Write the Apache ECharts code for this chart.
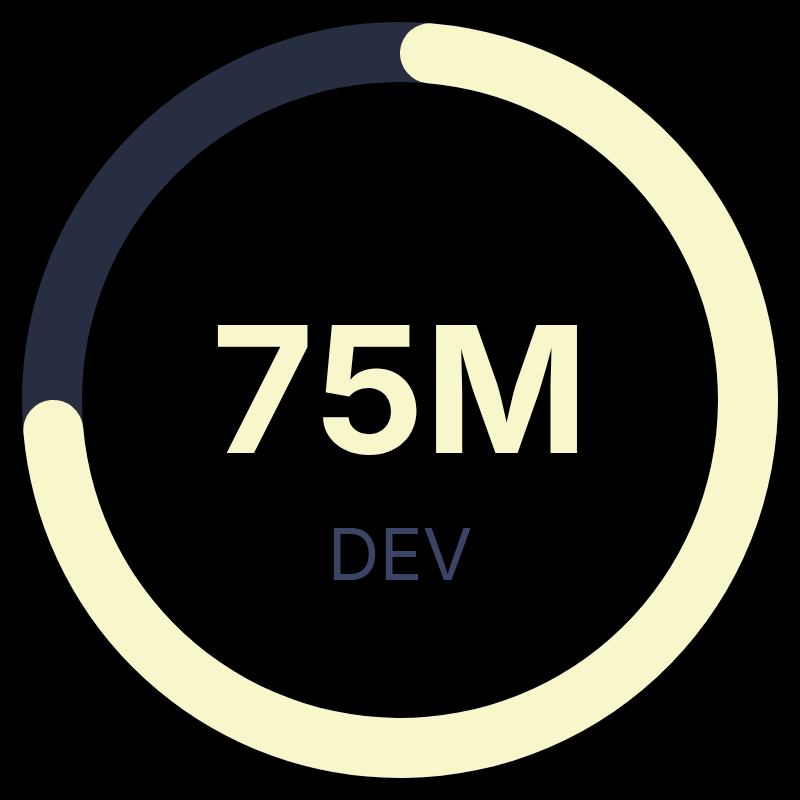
<!DOCTYPE html>
<html>
<head>
<meta charset="utf-8">
<script src="https://cdn.jsdelivr.net/npm/echarts@6/dist/echarts.min.js"></script>
<style>html,body{margin:0;padding:0;background:#000;}#c{width:800px;height:800px;}</style>
</head>
<body>
<div id="c"></div>
<script>
const labels = ['DEV'];
const values = [75];
const maxValue = 100;
const unit = 'M';

// round caps drawn inside the arc: shift angles by cap half-width
const ringWidth = 60;
const ringRadius = 378;
const capDeg = (ringWidth / 2) / (ringRadius - ringWidth / 2) * 180 / Math.PI;
const fullStart = 90;
const progStart = fullStart - capDeg;
const progSpan = (360 * values[0] / maxValue - 2 * capDeg) / (values[0] / maxValue);

const chart = echarts.init(document.getElementById('c'));
chart.setOption({
  backgroundColor: '#000000',
  series: [{
    type: 'gauge',
    center: ['50%', '50%'],
    radius: ringRadius,
    startAngle: 90,
    endAngle: -270,
    min: 0,
    max: maxValue,
    pointer: { show: false },
    progress: { show: false },
    axisLine: { lineStyle: { width: ringWidth, color: [[1, '#282e42']] } },
    axisTick: { show: false },
    splitLine: { show: false },
    axisLabel: { show: false },
    anchor: { show: false },
    title: { show: false },
    detail: { show: false },
    data: [{ value: 0 }]
  }, {
    type: 'gauge',
    center: ['50%', '50%'],
    radius: ringRadius,
    startAngle: progStart,
    endAngle: progStart - progSpan,
    min: 0,
    max: maxValue,
    pointer: { show: false },
    progress: { show: true, width: ringWidth, roundCap: true, itemStyle: { color: '#f8f6cb' } },
    axisLine: { lineStyle: { width: ringWidth, color: [[1, 'rgba(0,0,0,0)']] } },
    axisTick: { show: false },
    splitLine: { show: false },
    axisLabel: { show: false },
    anchor: { show: false },
    title: {
      offsetCenter: [0, 158],
      color: '#3a4566',
      fontFamily: 'Inter',
      fontSize: 72,
      fontWeight: 400
    },
    detail: {
      offsetCenter: [0, 0],
      color: '#f8f6cb',
      fontFamily: 'Inter',
      fontSize: 176,
      fontWeight: 700,
      formatter: v => v + unit
    },
    data: labels.map((n, i) => ({ name: n, value: values[i] }))
  }]
});
</script>
</body>
</html>
